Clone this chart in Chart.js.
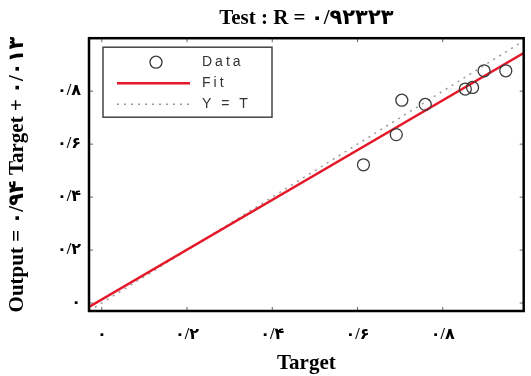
<!DOCTYPE html>
<html>
<head>
<meta charset="utf-8">
<script src="https://cdn.jsdelivr.net/npm/chart.js@4.4.1/dist/chart.umd.min.js"></script>
<style>
html, body { margin: 0; padding: 0; background: #fff; }
</style>
</head>
<body>
<canvas id="myChart" width="531" height="376"></canvas>
<script>
// values
const targetX = [0.614, 0.691, 0.704, 0.759, 0.853, 0.870, 0.897, 0.948];
const outputY = [0.522, 0.636, 0.766, 0.750, 0.808, 0.814, 0.877, 0.877];
const fitX = [-0.03, 0.99];
const fitY = [-0.015, 0.944];
const identX = [-0.03, 1.0];
const identY = [-0.03, 1.0];
const tickValues = [0, 0.2, 0.4, 0.6, 0.8];
const tickLabels = ['۰', '۰/۲', '۰/۴', '۰/۶', '۰/۸'];
const titleText = 'Test : R = ۰/۹۲۳۲۳';
const xTitle = 'Target';
const yTitle = 'Output = ۰/۹۴ Target + ۰/۰۱۳';
const legendLabels = ['Data', 'Fit', 'Y = T'];

const serif = "'Liberation Serif', 'Times New Roman', 'DejaVu Sans', serif";

function pairs(xs, ys) {
    return xs.map((x, i) => ({ x: x, y: ys[i] }));
}

// black box round the plot with small inward ticks
const frame = {
    id: 'frame',
    afterDatasetsDraw(chart) {
        const { ctx, chartArea: a, scales } = chart;
        ctx.save();
        ctx.strokeStyle = '#666';
        ctx.lineWidth = 1;
        tickValues.forEach(v => {
            const px = scales.x.getPixelForValue(v);
            const py = scales.y.getPixelForValue(v);
            ctx.beginPath();
            ctx.moveTo(px, a.top); ctx.lineTo(px, a.top + 4);
            ctx.moveTo(px, a.bottom); ctx.lineTo(px, a.bottom - 4);
            ctx.moveTo(a.left, py); ctx.lineTo(a.left + 4, py);
            ctx.moveTo(a.right, py); ctx.lineTo(a.right - 4, py);
            ctx.stroke();
        });
        ctx.strokeStyle = '#000';
        ctx.lineWidth = 2.5;
        ctx.strokeRect(a.left, a.top, a.right - a.left, a.bottom - a.top);
        ctx.restore();
    }
};

// legend drawn inside the plot, with its own border
const boxLegend = {
    id: 'boxLegend',
    afterDraw(chart) {
        const { ctx, chartArea } = chart;
        const x0 = chartArea.left + 14, y0 = chartArea.top + 9, w = 169, h = 70;
        ctx.save();
        ctx.fillStyle = '#fff';
        ctx.fillRect(x0, y0, w, h);
        ctx.strokeStyle = '#444';
        ctx.lineWidth = 1.5;
        ctx.strokeRect(x0, y0, w, h);
        ctx.font = '14px "Liberation Sans", Arial, sans-serif';
        ctx.letterSpacing = '3px';
        ctx.textBaseline = 'middle';
        chart.data.datasets.forEach((ds, i) => {
            const y = y0 + 15 + i * 21;
            ctx.strokeStyle = ds.borderColor;
            ctx.lineWidth = ds.borderWidth;
            ctx.setLineDash(ds.borderDash || []);
            ctx.beginPath();
            if (ds.showLine) {
                ctx.moveTo(x0 + 14, y);
                ctx.lineTo(x0 + 87, y);
            } else {
                ctx.arc(x0 + 53, y, ds.pointRadius, 0, Math.PI * 2);
            }
            ctx.stroke();
            ctx.setLineDash([]);
            ctx.fillStyle = '#333';
            ctx.fillText(ds.label, x0 + 99, y);
        });
        ctx.restore();
    }
};

const ctx = document.getElementById('myChart');

new Chart(ctx, {
    type: 'scatter',
    data: {
        datasets: [
            {
                label: legendLabels[0],
                data: pairs(targetX, outputY),
                showLine: false,
                pointStyle: 'circle',
                pointRadius: 6,
                pointBorderWidth: 1.3,
                borderColor: '#3a3a3a',
                borderWidth: 1.3,
                backgroundColor: 'rgba(0,0,0,0)',
                order: 0
            },
            {
                label: legendLabels[1],
                data: pairs(fitX, fitY),
                showLine: true,
                pointRadius: 0,
                borderColor: 'rgb(228, 24, 40)',
                borderWidth: 2.5,
                order: 1
            },
            {
                label: legendLabels[2],
                data: pairs(identX, identY),
                showLine: true,
                pointRadius: 0,
                borderColor: '#999',
                borderWidth: 1.5,
                borderDash: [2, 5],
                order: 2
            }
        ]
    },
    options: {
        responsive: false,
        animation: false,
        layout: { padding: { left: 0, right: 6, top: 0, bottom: 0 } },
        plugins: {
            legend: { display: false },
            tooltip: { enabled: false },
            title: {
                display: true,
                text: titleText,
                fullSize: false,
                color: '#000',
                font: { family: serif, size: 21, weight: 'bold' },
                padding: { top: 6, bottom: 7 }
            }
        },
        scales: {
            x: {
                type: 'linear',
                min: -0.03,
                max: 0.99,
                afterBuildTicks: s => { s.ticks = tickValues.map(v => ({ value: v })); },
                afterFit: s => { s.height = 65; },
                grid: { display: false, drawTicks: false },
                border: { display: false },
                ticks: {
                    padding: 14,
                    color: '#000',
                    font: { family: serif, size: 16, weight: 'bold' },
                    callback: (v, i) => tickLabels[i]
                },
                title: {
                    display: true,
                    text: xTitle,
                    color: '#000',
                    font: { family: serif, size: 21, weight: 'bold' },
                    padding: { top: 0, bottom: 0 }
                }
            },
            y: {
                type: 'linear',
                min: -0.03,
                max: 1.0,
                afterBuildTicks: s => { s.ticks = tickValues.map(v => ({ value: v })); },
                afterFit: s => { s.width = 89; },
                grid: { display: false, drawTicks: false },
                border: { display: false },
                ticks: {
                    padding: 8,
                    color: '#000',
                    font: { family: serif, size: 16, weight: 'bold' },
                    callback: (v, i) => tickLabels[i]
                },
                title: {
                    display: true,
                    text: yTitle,
                    color: '#000',
                    font: { family: serif, size: 21, weight: 'bold' },
                    padding: { top: 5, bottom: 0 }
                }
            }
        }
    },
    plugins: [frame, boxLegend]
});
</script>
</body>
</html>
